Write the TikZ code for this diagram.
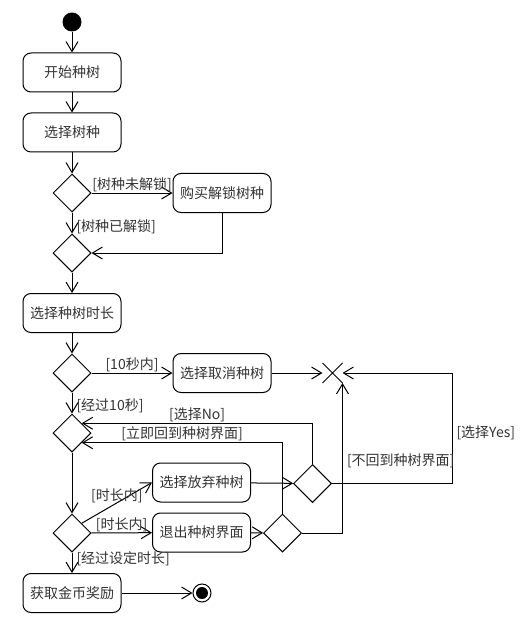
\documentclass[tikz,border=0pt]{standalone}
\usepackage{fontspec}
\setmainfont{Noto Sans CJK SC}
\usetikzlibrary{arrows.meta,shapes.geometric,shapes.misc}
\definecolor{txt}{RGB}{51,51,51}
\newcommand\cjkfont{\fontsize{14}{16}\selectfont}

\begin{document}
\begin{tikzpicture}[x=1pt,y=-1pt,line width=1pt,
  act/.style={draw, rounded corners=8pt, minimum width=98pt, minimum height=39pt,
    inner sep=0pt, text=txt, font=\cjkfont},
  branch/.style={draw, diamond, minimum width=38pt, minimum height=38pt, inner sep=0pt},
  guard/.style={text=txt, font=\cjkfont, inner sep=1pt},
  flow/.style={-{Straight Barb[length=10pt,width=12pt]}}]
  \useasboundingbox (0,0) rectangle (526,631);
  % main column
  \node[circle, fill, minimum size=19pt, inner sep=0pt] (start) at (72,22) {};
  \node[act] (plant) at (72,72.5) {开始种树};
  \node[act] (pick) at (72,132.5) {选择树种};
  \node[branch] (lockq) at (72,193) {};
  \node[act] (buy) at (222,193) {购买解锁树种};
  \node[branch] (lockm) at (72,253) {};
  \node[act] (time) at (72,313) {选择种树时长};
  \node[branch] (tenq) at (72,373) {};
  \node[act] (cancel) at (222,373) {选择取消种树};
  \node[draw, cross out, minimum size=19pt, inner sep=0pt] (stop) at (332.5,373) {};
  \node[branch] (backm) at (72,433) {};
  \node[act] (giveup) at (201.5,482.5) {选择放弃种树};
  \node[act] (quit) at (201.5,532.5) {退出种树界面};
  \node[branch] (yesq) at (312.5,483.5) {};
  \node[branch] (returnq) at (282.5,533) {};
  \node[branch] (durq) at (72,533) {};
  \node[act] (reward) at (72,593) {获取金币奖励};
  \node[circle, draw, minimum size=18pt, inner sep=0pt,
    path picture={\fill (path picture bounding box.center) circle (6pt);}] (finish) at (202,593) {};

  % flows
  \draw[flow] (start) -- (plant);
  \draw[flow] (plant) -- (pick);
  \draw[flow] (pick) -- (lockq);
  \draw[flow] (lockq) -- node[guard, above] {[树种未解锁]} (buy);
  \draw[flow] (lockq) -- node[guard, anchor=west, pos=0.68, xshift=3pt] {[树种已解锁]} (lockm);
  \draw[flow] (buy.south) |- (lockm.east);
  \draw[flow] (lockm) -- (time);
  \draw[flow] (time) -- (tenq);
  \draw[flow] (tenq) -- node[guard, above] {[10秒内]} (cancel);
  \draw[flow] (tenq) -- node[guard, anchor=west, pos=0.64, xshift=3pt] {[经过10秒]} (backm);
  \draw[flow] (cancel) -- (stop.west);
  \draw[flow] (backm) -- (durq);
  \draw[flow] (durq.north east) -- node[guard, above, inner sep=0pt] {[时长内]} (giveup.west);
  \draw[flow] (durq) -- node[guard, above, inner sep=0pt] {[时长内]} (quit);
  \draw[flow] (durq) -- node[guard, anchor=west, pos=0.3, xshift=3pt] {[经过设定时长]} (reward);
  \draw[flow] (reward) -- (finish);
  \draw[flow] (giveup) -- (yesq);
  \draw[flow] (quit) -- (returnq);
  % loops back
  \draw[flow] (yesq.north) |- node[guard, above, pos=0.75] {[选择No]} (backm.north east);
  \draw[flow] (returnq.north) |- node[guard, above, pos=0.75] {[立即回到种树界面]} (backm.south east);
  \draw[flow] (yesq.east) -- ++(120,0) |- node[guard, anchor=west, pos=0.23, xshift=3pt] {[选择Yes]} (stop.east);
  \draw[flow] (returnq.east) -| node[guard, anchor=west, pos=0.74, xshift=3pt] {[不回到种树界面]} (stop.south east);
\end{tikzpicture}
\end{document}
